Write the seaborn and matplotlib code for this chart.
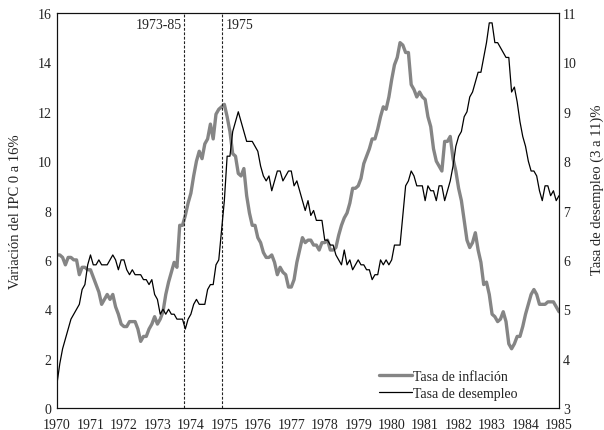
import matplotlib
matplotlib.use("Agg")
import matplotlib.pyplot as plt
import pandas as pd
import seaborn as sns

# serie mensual, dic 1969 - dic 1984
inflacion = [6.2,
             6.2, 6.1, 5.8, 6.1, 6.1, 6.0, 6.0, 5.4, 5.7, 5.7, 5.6, 5.6,
             5.3, 5.0, 4.7, 4.2, 4.4, 4.6, 4.4, 4.6, 4.1, 3.8, 3.4, 3.3,
             3.3, 3.5, 3.5, 3.5, 3.2, 2.7, 2.9, 2.9, 3.2, 3.4, 3.7, 3.4,
             3.6, 3.9, 4.6, 5.1, 5.5, 5.9, 5.7, 7.4, 7.4, 7.8, 8.3, 8.7,
             9.4, 10.0, 10.4, 10.1, 10.7, 10.9, 11.5, 10.9, 11.9, 12.1, 12.2, 12.3,
             11.8, 11.2, 10.3, 10.2, 9.5, 9.4, 9.7, 8.6, 7.9, 7.4, 7.4, 6.9,
             6.7, 6.3, 6.1, 6.1, 6.2, 5.9, 5.4, 5.7, 5.5, 5.4, 4.9, 4.9,
             5.2, 5.9, 6.4, 6.9, 6.7, 6.8, 6.8, 6.6, 6.6, 6.4, 6.7, 6.7,
             6.8, 6.4, 6.4, 6.5, 7.0, 7.4, 7.7, 7.9, 8.3, 8.9, 8.9, 9.0,
             9.3, 9.9, 10.2, 10.5, 10.9, 10.9, 11.3, 11.8, 12.2, 12.1, 12.6, 13.3,
             13.9, 14.2, 14.8, 14.7, 14.4, 14.4, 13.1, 12.9, 12.6, 12.8, 12.6, 12.5,
             11.8, 11.4, 10.5, 10.0, 9.8, 9.6, 10.8, 10.8, 11.0, 10.1, 9.6, 8.9,
             8.4, 7.6, 6.8, 6.5, 6.7, 7.1, 6.4, 5.9, 5.0, 5.1, 4.6, 3.8,
             3.7, 3.5, 3.6, 3.9, 3.5, 2.6, 2.4, 2.6, 2.9, 2.9, 3.3, 3.8,
             4.2, 4.6, 4.8, 4.6, 4.2, 4.2, 4.2, 4.3, 4.3, 4.3, 4.1, 3.9]

desempleo = [3.5,
             3.9, 4.2, 4.4, 4.6, 4.8, 4.9, 5.0, 5.1, 5.4, 5.5, 5.9, 6.1,
             5.9, 5.9, 6.0, 5.9, 5.9, 5.9, 6.0, 6.1, 6.0, 5.8, 6.0, 6.0,
             5.8, 5.7, 5.8, 5.7, 5.7, 5.7, 5.6, 5.6, 5.5, 5.6, 5.3, 5.2,
             4.9, 5.0, 4.9, 5.0, 4.9, 4.9, 4.8, 4.8, 4.8, 4.6, 4.8, 4.9,
             5.1, 5.2, 5.1, 5.1, 5.1, 5.4, 5.5, 5.5, 5.9, 6.0, 6.6, 7.2,
             8.1, 8.1, 8.6, 8.8, 9.0, 8.8, 8.6, 8.4, 8.4, 8.4, 8.3, 8.2,
             7.9, 7.7, 7.6, 7.7, 7.4, 7.6, 7.8, 7.8, 7.6, 7.7, 7.8, 7.8,
             7.5, 7.6, 7.4, 7.2, 7.0, 7.2, 6.9, 7.0, 6.8, 6.8, 6.8, 6.4,
             6.4, 6.3, 6.3, 6.1, 6.0, 5.9, 6.2, 5.9, 6.0, 5.8, 5.9, 6.0,
             5.9, 5.9, 5.8, 5.8, 5.6, 5.7, 5.7, 6.0, 5.9, 6.0, 5.9, 6.0,
             6.3, 6.3, 6.3, 6.9, 7.5, 7.6, 7.8, 7.7, 7.5, 7.5, 7.5, 7.2,
             7.5, 7.4, 7.4, 7.2, 7.5, 7.5, 7.2, 7.4, 7.6, 7.9, 8.3, 8.5,
             8.6, 8.9, 9.0, 9.3, 9.4, 9.6, 9.8, 9.8, 10.1, 10.4, 10.8, 10.8,
             10.4, 10.4, 10.3, 10.2, 10.1, 10.1, 9.4, 9.5, 9.2, 8.8, 8.5, 8.3,
             8.0, 7.8, 7.8, 7.7, 7.4, 7.2, 7.5, 7.5, 7.3, 7.4, 7.2, 7.3]

anios = list(range(1970, 1986))
marcas = [(1973.8, "1973-85"), (1974.93, "1975")]

fechas = pd.date_range("1969-12-01", periods=len(inflacion), freq="MS")
df = pd.DataFrame({"anio": fechas.year + fechas.month / 12,
                   "inflacion": inflacion,
                   "desempleo": desempleo})

sns.set_style("white")
plt.rcParams["font.family"] = ["Liberation Serif", "DejaVu Serif"]
txt = "#222222"

fig = plt.figure(figsize=(6.04, 4.31), dpi=100)
ax = fig.add_axes([0.0944, 0.051, 0.8311, 0.9165])
ax2 = ax.twinx()

sns.lineplot(data=df, x="anio", y="inflacion", ax=ax, color="#858585",
             lw=2.4, label="Tasa de inflación", legend=False)
sns.lineplot(data=df, x="anio", y="desempleo", ax=ax2, color="black",
             lw=0.9, label="Tasa de desempleo", legend=False)

ax.set_xlim(1970, 1985)
ax.set_ylim(0, 16)
ax2.set_ylim(3, 11)
ax.set_xticks(anios)
ax.set_yticks(range(0, 17, 2))
ax2.set_yticks(range(3, 12))
ax.set_xlabel("")
ax.tick_params(length=0, labelsize=10, colors=txt, pad=4)
ax.tick_params(axis="x", pad=7)
ax2.tick_params(length=0, labelsize=10, colors=txt, pad=3)

for a in (ax, ax2):
    for s in a.spines.values():
        s.set_color("#111111")
        s.set_linewidth(0.8)

ax.set_ylabel("Variación del IPC 0 a 16%", fontsize=10.5, color=txt)
ax.yaxis.set_label_coords(-0.07, 0.5)
ax2.set_ylabel("Tasa de desempleo (3 a 11)%", fontsize=10.5, color=txt)
ax2.yaxis.set_label_coords(1.063, 0.555)

for x, lab in marcas:
    ax.axvline(x, color="#222222", lw=0.8, ls=(0, (2.5, 1.5)))
ax.text(marcas[0][0] - 0.07, 15.55, marcas[0][1], ha="right", va="center",
        fontsize=10, color=txt)
ax.text(marcas[1][0] + 0.12, 15.55, marcas[1][1], ha="left", va="center",
        fontsize=10, color=txt)

handles = ax.get_lines()[:1] + ax2.get_lines()[:1]
ax2.legend(handles, [h.get_label() for h in handles], loc="lower right",
           bbox_to_anchor=(0.918, 0.02), frameon=False, fontsize=10,
           handlelength=2.4, handletextpad=0.1, labelspacing=0.33,
           borderpad=0, borderaxespad=0, labelcolor=txt)

fig.savefig("out.png", dpi=100)
